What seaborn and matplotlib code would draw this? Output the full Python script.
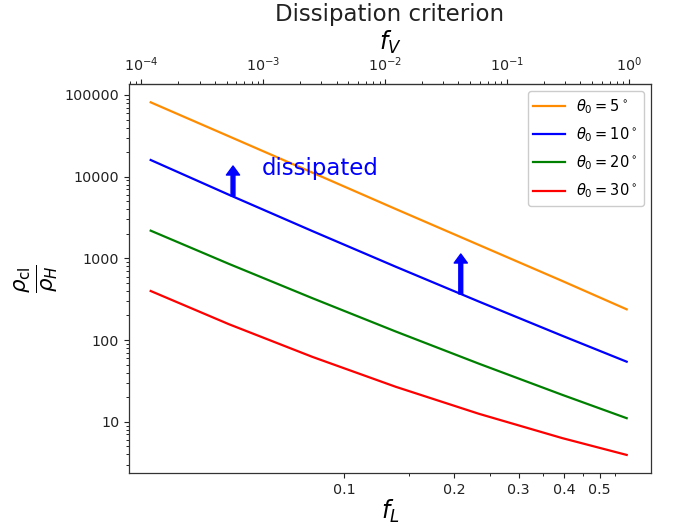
import numpy as np
import pandas as pd
import matplotlib
matplotlib.use("Agg")
import matplotlib.pyplot as plt
import matplotlib.ticker as mticker
import seaborn as sns

# ---------------- data ----------------
f_L = [0.02953, 0.04835, 0.0818, 0.1382, 0.2336, 0.3949, 0.5924]
theta_labels = [r"$\theta_0 = 5^\circ$", r"$\theta_0 = 10^\circ$",
                r"$\theta_0 = 20^\circ$", r"$\theta_0 = 30^\circ$"]
ratio_5 = [81340, 31200, 11210, 4024, 1459, 529, 238]
ratio_10 = [16010, 6009, 2159, 791.5, 296.0, 112.9, 54.4]
ratio_20 = [2185, 856.3, 325.7, 127.5, 51.4, 21.36, 11.07]
ratio_30 = [399, 156.4, 62.3, 26.84, 12.52, 6.31, 3.93]
colors = ["darkorange", "blue", "green", "red"]

xtick_major = [0.1, 0.2, 0.3, 0.4, 0.5]
xtick_labels = ["0.1", "0.2", "0.3", "0.4", "0.5"]
xtick_minor = [0.15, 0.25, 0.35, 0.45, 0.55]
ytick_major = [10, 100, 1000, 10000, 100000]
top_ticks = [1e-4, 1e-3, 1e-2, 1e-1, 1e0]

# arrows ("dissipated" direction) on the 10 deg curve
arrow_x = [0.0496, 0.2083]
arrow_base = [5805, 366.7]
arrow_tip = [13520, 1132]
text_x, text_y = 0.0595, 10490

C_V = 4.62  # f_V = C_V * f_L**3 (top axis mapping)

# ---------------- build table ----------------
series = [ratio_5, ratio_10, ratio_20, ratio_30]
rows = []
for lab, vals in zip(theta_labels, series):
    for x, y in zip(f_L, vals):
        rows.append({"f_L": x, "ratio": y, "theta": lab})
df = pd.DataFrame(rows)

# ---------------- plot ----------------
fig = plt.figure(figsize=(6.73, 5.31), dpi=100)
ax = fig.add_axes([129 / 673, 1 - 473 / 531, (651 - 129) / 673, (473 - 84) / 531])

sns.lineplot(data=df, x="f_L", y="ratio", hue="theta", hue_order=theta_labels,
             palette=colors, linewidth=1.6, ax=ax, sort=False, estimator=None)

ax.set_xscale("log")
ax.set_yscale("log")
ax.set_xlim(0.02576, 0.6905)
ax.set_ylim(2.362, 136300)

ax.xaxis.set_major_locator(mticker.FixedLocator(xtick_major))
ax.xaxis.set_major_formatter(mticker.FixedFormatter(xtick_labels))
ax.xaxis.set_minor_locator(mticker.FixedLocator(xtick_minor))
ax.xaxis.set_minor_formatter(mticker.NullFormatter())

ax.yaxis.set_major_locator(mticker.FixedLocator(ytick_major))
ax.yaxis.set_major_formatter(mticker.FuncFormatter(lambda v, _: f"{v:g}"))
ax.yaxis.set_minor_locator(mticker.LogLocator(base=10, subs=np.arange(2, 10), numticks=20))
ax.yaxis.set_minor_formatter(mticker.NullFormatter())

ax.tick_params(labelsize=10.3, colors="#222222")
for s in ax.spines.values():
    s.set_color("#333333")
    s.set_linewidth(0.9)

ax.set_xlabel(r"$f_L$", fontsize=17, labelpad=1)
ax.set_ylabel(r"$\frac{\rho_{\rm cl}}{\rho_H}$", fontsize=22, labelpad=4)

secax = ax.secondary_xaxis("top", functions=(lambda x: C_V * np.power(np.abs(x), 3),
                                             lambda x: np.cbrt(np.abs(x) / C_V)))
secax.xaxis.set_major_locator(mticker.FixedLocator(top_ticks))
secax.xaxis.set_major_formatter(mticker.LogFormatterSciNotation())
secax.xaxis.set_minor_locator(mticker.LogLocator(base=10, subs=np.arange(2, 10), numticks=20))
secax.xaxis.set_minor_formatter(mticker.NullFormatter())
secax.tick_params(labelsize=10.3, colors="#222222")
secax.spines["top"].set_color("#333333")
secax.set_xlabel(r"$f_V$", fontsize=17, labelpad=4)

fig.text(390 / 673, 1 - 15 / 531, "Dissipation criterion", fontsize=16.5,
         ha="center", va="center", color="#222222")

for xa, yb, yt in zip(arrow_x, arrow_base, arrow_tip):
    ax.annotate("", xy=(xa, yt), xytext=(xa, yb),
                arrowprops=dict(facecolor="blue", edgecolor="blue", width=2.8,
                                headwidth=9.5, headlength=6.5, shrink=0))
ax.text(text_x, text_y, "dissipated", color="blue", fontsize=16.5,
        ha="left", va="baseline")

handles, labels = ax.get_legend_handles_labels()
ax.legend(handles, labels, loc="upper right", fontsize=10.5, framealpha=1,
          edgecolor="#cccccc", labelspacing=0.65, handlelength=2.15)

fig.savefig("out.png", dpi=100)
